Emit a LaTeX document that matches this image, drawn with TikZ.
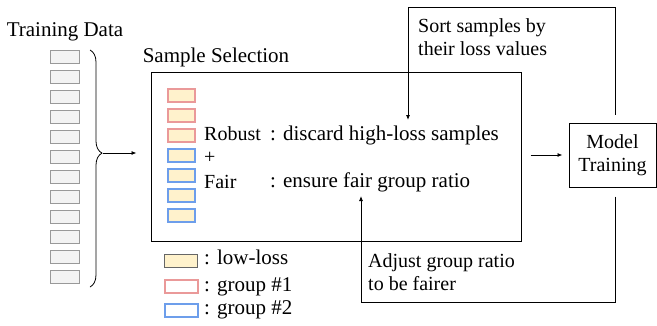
\documentclass[tikz,border=0pt]{standalone}
\usepackage{fontspec}
\setmainfont{Liberation Serif}
\usetikzlibrary{arrows.meta,decorations.pathreplacing}
\definecolor{lowloss}{HTML}{FFF2CC}
\definecolor{groupone}{HTML}{EA9999}
\definecolor{grouptwo}{HTML}{6D9EEB}
\definecolor{datafill}{HTML}{F3F3F3}
\definecolor{dataline}{HTML}{999999}

\begin{document}
\begin{tikzpicture}[x=1pt, y=-1pt,
  txt/.style={font=\fontsize{21}{23}\selectfont, inner sep=0pt},
  small/.style={font=\fontsize{20}{23}\selectfont, inner sep=0pt},
  databox/.style={draw=dataline, fill=datafill, line width=1pt, minimum width=29pt, minimum height=13pt, inner sep=0pt},
  samplebox/.style={draw=#1, fill=lowloss, line width=2pt, minimum width=27pt, minimum height=13pt, inner sep=0pt},
  keybox/.style={draw=#1, line width=2pt, minimum width=33pt, minimum height=13pt, inner sep=0pt},
  flow/.style={line width=0.8pt, -{Latex[length=5pt,width=4pt]}}]
\useasboundingbox (0,0) rectangle (657,325);

% Training data
\node[txt] (train) at (65,32) {Training Data};
\foreach \i in {0,...,11}
  \node[databox] (d\i) at (64.5,56.5+20*\i) {};
\draw[line width=0.8pt, decorate, decoration={brace, amplitude=12pt, aspect=0.435}] (90,50) -- (90,287);
\coordinate (tip) at (103,153);

% Sample selection
\node[txt] (seltitle) at (216,57) {Sample Selection};
\node[draw, line width=1pt, minimum width=370pt, minimum height=169pt] (sel) at (336,156.5) {};
\foreach \i/\c in {0/groupone,1/groupone,2/groupone,3/grouptwo,4/grouptwo,5/grouptwo,6/grouptwo}
  \node[samplebox=\c] (s\i) at (181,95+20*\i) {};
\node[small, anchor=base west] (robust) at (204,140) {Robust};
\node[small, anchor=base west] (plus) at (204,163) {+};
\node[small, anchor=base west] (fair) at (204,188) {Fair};
\node[txt, anchor=base west] (discard) at (270,140) {: discard high-loss samples};
\node[txt, anchor=base west] (ensure) at (270,187) {: ensure fair group ratio};
\draw[flow, shorten >=14pt] (tip) -- (sel.west |- tip);

% Model training
\node[small, draw, line width=1pt, minimum width=87pt, minimum height=64pt, align=center] (mt) at (612.5,155) {Model\\Training};
\draw[flow, shorten <=9pt, shorten >=6pt] (sel.east |- mt.west) -- (mt.west);

% Feedback loops
\coordinate (sorttop) at (408,7);
\coordinate (sortend) at (408,120);
\draw[flow, shorten <=8pt] ([xshift=3pt]mt.north) |- (sorttop) -- (sortend);
\node[small, anchor=base west, align=left] (sortlbl) at (418,55) {Sort samples by\\their loss values};
\coordinate (adjbot) at (361,302);
\coordinate (adjend) at (361,196);
\draw[flow, shorten <=9pt] ([xshift=3pt]mt.south) |- (adjbot) -- (adjend);
\node[small, anchor=base west, align=left] (adjlbl) at (368,290) {Adjust group ratio\\to be fairer};

% Legend
\node[keybox=black!60, fill=lowloss, line width=1pt] (klow) at (181,261) {};
\node[txt, anchor=base west] (klowlbl) at (204,264) {: low-loss};
\node[keybox=groupone] (kone) at (181,286) {};
\node[txt, anchor=base west] (konelbl) at (204,291) {: group \#1};
\node[keybox=grouptwo] (ktwo) at (181,310) {};
\node[txt, anchor=base west] (ktwolbl) at (204,314) {: group \#2};
\end{tikzpicture}
\end{document}
